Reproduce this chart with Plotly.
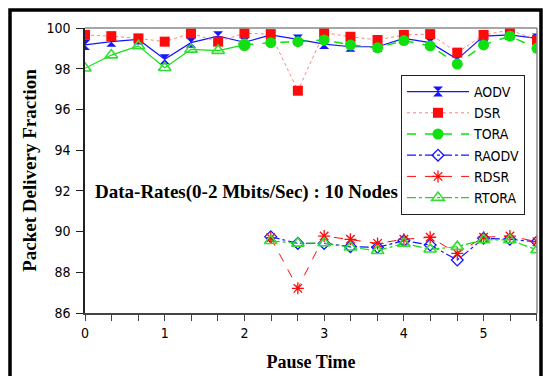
import plotly.graph_objects as go

pause_time = [0, 0.33, 0.67, 1, 1.33, 1.67, 2, 2.33, 2.67, 3, 3.33, 3.67, 4, 4.33, 4.67, 5, 5.33, 5.67]
aodv = [99.17, 99.33, 99.44, 98.46, 99.28, 99.6, 99.3, 99.66, 99.44, 99.21, 99.08, 99.08, 99.49, 99.28, 98.46, 99.6, 99.66, 99.49]
dsr = [99.66, 99.6, 99.49, 99.33, 99.74, 99.33, 99.74, 99.7, 96.92, 99.77, 99.57, 99.41, 99.66, 99.7, 98.79, 99.66, 99.9, 99.41]
tora = [98.02, 98.67, 99.12, 98.05, 98.95, 98.89, 99.17, 99.28, 99.33, 99.41, 99.17, 99.03, 99.38, 99.12, 98.23, 99.17, 99.6, 99.0]

r_time = [2.33, 2.67, 3, 3.33, 3.67, 4, 4.33, 4.67, 5, 5.33, 5.67]
raodv = [89.75, 89.42, 89.42, 89.26, 89.23, 89.55, 89.34, 88.6, 89.67, 89.62, 89.5]
rdsr = [89.7, 87.21, 89.78, 89.62, 89.42, 89.62, 89.72, 88.93, 89.72, 89.78, 89.5]
rtora = [89.55, 89.42, 89.44, 89.23, 89.06, 89.42, 89.13, 89.26, 89.59, 89.59, 89.1]

x_ticks = [0, 1, 2, 3, 4, 5]
y_ticks = [86, 88, 90, 92, 94, 96, 98, 100]

BLUE = "#1414ff"
RED = "#ff0a0a"
GREEN = "#10e010"
GREEN2 = "#33dd33"

SANS = "Liberation Sans Narrow, DejaVu Sans Condensed, Arial Narrow, sans-serif"
SERIF = "Liberation Serif, DejaVu Serif, serif"

fig = go.Figure()

fig.add_trace(go.Scatter(x=pause_time, y=aodv, name="AODV", mode="lines+markers",
                         line=dict(color=BLUE, width=1.2),
                         marker=dict(symbol="hourglass", size=10, color=BLUE)))
fig.add_trace(go.Scatter(x=pause_time, y=dsr, name="DSR", mode="lines+markers",
                         line=dict(color="#ff6060", width=0.8, dash="dot"),
                         marker=dict(symbol="square", size=10, color=RED)))
# early part of TORA drawn with open triangles
n0 = 7
fig.add_trace(go.Scatter(x=pause_time[:n0], y=tora[:n0], mode="lines+markers", showlegend=False,
                         line=dict(color=GREEN, width=1.2),
                         marker=dict(symbol=["triangle-up-open"] * (n0 - 1) + ["circle"],
                                     size=11, color=GREEN2,
                                     line=dict(width=1.6, color=GREEN2))))
fig.add_trace(go.Scatter(x=pause_time[n0 - 1:], y=tora[n0 - 1:], name="TORA", mode="lines+markers",
                         line=dict(color=GREEN, width=1.5, dash="dash"),
                         marker=dict(symbol="circle", size=11, color=GREEN)))
fig.add_trace(go.Scatter(x=r_time, y=raodv, name="RAODV", mode="lines+markers",
                         line=dict(color=BLUE, width=1.2, dash="dashdot"),
                         marker=dict(symbol="diamond-open", size=9, color=BLUE, line=dict(width=1.3))))
fig.add_trace(go.Scatter(x=r_time, y=rdsr, name="RDSR", mode="lines+markers",
                         line=dict(color=RED, width=1, dash="dash"),
                         marker=dict(symbol="asterisk-open", size=10, color=RED, line=dict(width=1.3, color=RED))))
fig.add_trace(go.Scatter(x=r_time, y=rtora, name="RTORA", mode="lines+markers",
                         line=dict(color=GREEN, width=1.2, dash="dashdot"),
                         marker=dict(symbol="triangle-up-open", size=11, color=GREEN2, line=dict(width=1.6, color=GREEN2))))

W, H = 543, 376
L, T = 85, 28
R = W - 537
B = H - 313
pw, ph = W - L - R, H - T - B

def px(x):
    return (x - L) / pw

def py(y):
    return (H - B - y) / ph

shapes = [
    dict(type="line", xref="paper", yref="paper", x0=0, x1=1, y0=1, y1=1, line=dict(color="#8a8a8a", width=1.5)),
    dict(type="line", xref="paper", yref="paper", x0=1, x1=1, y0=0, y1=1, line=dict(color="#8a8a8a", width=1.5)),
    dict(type="rect", xref="paper", yref="paper", x0=px(10), x1=px(541), y0=py(395), y1=py(10),
         line=dict(color="black", width=3.5), layer="above"),
]

fig.update_layout(
    width=W, height=H,
    margin=dict(l=L, r=R, t=T, b=B),
    paper_bgcolor="white", plot_bgcolor="white",
    showlegend=True,
    legend=dict(x=px(401), y=py(75), xanchor="left", yanchor="top",
                bgcolor="white", bordercolor="#222", borderwidth=1,
                font=dict(family=SANS, size=14, color="black"),
                itemwidth=62, tracegroupgap=0),
    shapes=shapes,
    annotations=[dict(text="<b>Data-Rates(0-2 Mbits/Sec) : 10 Nodes</b>", xref="paper", yref="paper",
                      x=px(93), y=py(192), xanchor="left", yanchor="middle", showarrow=False,
                      font=dict(family=SERIF, size=19, color="black"))],
    xaxis=dict(range=[0, 5.67], tickvals=x_ticks, ticktext=[str(v) for v in x_ticks],
               showgrid=False, zeroline=False, showline=True, linecolor="#444", linewidth=1.5,
               ticks="outside", ticklen=6, tickcolor="#444", tickwidth=1.2,
               minor=dict(dtick=1/3, tick0=0, ticks="outside", ticklen=6, tickcolor="#444", tickwidth=1.2, showgrid=False),
               tickfont=dict(family=SANS, size=14, color="black"),
               title=dict(text="<b>Pause Time</b>", font=dict(family=SERIF, size=18, color="black"), standoff=16)),
    yaxis=dict(range=[86, 100], tickvals=y_ticks, ticktext=[str(v) for v in y_ticks],
               showgrid=False, zeroline=False, showline=True, linecolor="#222", linewidth=1.5,
               ticks="outside", ticklen=7, tickcolor="#222", tickwidth=1.2, ticklabelstandoff=3,
               tickfont=dict(family=SANS, size=14, color="black"),
               title=dict(text="<b>Packet Delivery Fraction</b>", font=dict(family=SERIF, size=19, color="black"), standoff=5)),
)

fig.write_html("out.html", config={"displayModeBar": False},
               post_script="document.body.style.margin='0';document.body.style.overflow='hidden';")
